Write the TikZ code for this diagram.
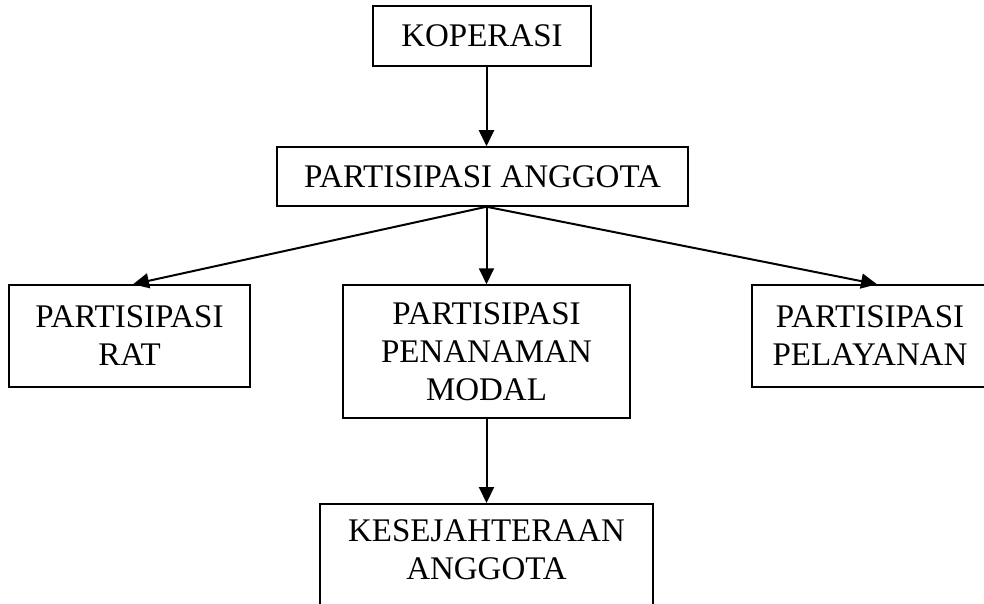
\documentclass[tikz,border=0pt]{standalone}
\usepackage{fontspec}
\setmainfont{Liberation Serif}
\usepackage{tikz}
\usetikzlibrary{positioning, calc, arrows.meta}
\tikzset{
    boxnode/.style={
        draw, line width=1.5pt, fill=white, inner sep=0pt,
        align=center, font=\fontsize{33}{38}\selectfont
    },
    arr/.style={
        -{Triangle[length=16pt, width=15pt]}, line width=2pt
    }
}
\begin{document}
\begin{tikzpicture}[x=1pt, y=1pt]
    \useasboundingbox (0,0) rectangle (984,-604);

    % --- KOTAK ---
    \node[boxnode, minimum width=218pt, minimum height=60pt] (kop) at (482,-36) {KOPERASI};
    \node[boxnode, minimum width=411pt, minimum height=59pt] (pa) at (482.5,-176.5) {PARTISIPASI ANGGOTA};

    \node[boxnode, minimum width=241pt, minimum height=102pt] (rat) at (129.5,-336) {PARTISIPASI\\RAT};
    \node[boxnode, minimum width=287pt, minimum height=133pt] (ppm) at (486.5,-351.5) {PARTISIPASI\\PENANAMAN\\MODAL};
    \node[boxnode, minimum width=236pt, minimum height=102pt] (pel) at (870,-336) {PARTISIPASI\\PELAYANAN};

    % kotak terakhir terpotong di bawah
    \node[boxnode, anchor=north, minimum width=333pt, inner ysep=16pt, text depth=80pt] (ka) at (486.5,-503) {KESEJAHTERAAN\\ANGGOTA};

    % --- PANAH ---
    \draw[arr] (kop.south -| ppm.north) -- (pa.north -| ppm.north);
    \coordinate (pab) at (pa.south -| ppm.north);
    \draw[arr] (pab) -- ($(rat.north)+(3.5,0)$);
    \draw[arr] (pab) -- (ppm.north);
    \draw[arr] (pab) -- ($(pel.north)+(7,0)$);
    \draw[arr] (ppm.south) -- (ka.north);

\end{tikzpicture}
\end{document}
